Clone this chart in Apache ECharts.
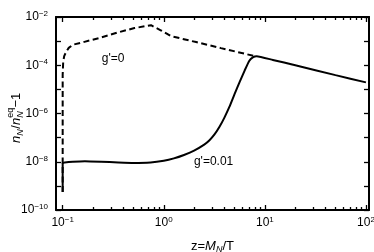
<!DOCTYPE html>
<html><head><meta charset="utf-8">
<script src="https://cdn.jsdelivr.net/npm/echarts@6/dist/echarts.min.js"></script>
<style>html,body{margin:0;padding:0;background:#fff}#c{width:374px;height:252px}</style>
</head><body><div id="c"></div>
<script>
// ---- data ----
const xMajorTicks = [0.1, 1, 10, 100];
const xMinorTicks = [0.2,0.3,0.4,0.5,0.6,0.7,0.8,0.9,2,3,4,5,6,7,8,9,20,30,40,50,60,70,80,90];
const yTicks = [1e-10,1e-9,1e-8,1e-7,1e-6,1e-5,1e-4,1e-3,1e-2];
const yLabelTicks = [1e-10,1e-8,1e-6,1e-4,1e-2];

const zDashed = [0.1,0.1,0.1012,0.1035,0.1081,0.1148,0.1259,0.164,0.240,0.351,0.513,0.748,0.933,1.175,2.09,3.68,8.13];
const yDashed = [5.62e-10,3.98e-5,1.41e-4,2.40e-4,3.55e-4,5.25e-4,7.08e-4,9.33e-4,1.41e-3,2.29e-3,3.47e-3,4.57e-3,2.82e-3,1.62e-3,9.12e-4,5.13e-4,2.34e-4];

const zSolid = [0.1,0.1,0.1047,0.1259,0.166,0.240,0.355,0.501,0.741,1.0,1.259,1.585,1.995,2.512,2.818,3.162,3.548,3.981,4.467,5.012,5.623,6.310,7.0,7.6,8.3,12,20,50,100];
const ySolid = [5.62e-10,8.91e-9,9.33e-9,1.0e-8,1.05e-8,1.0e-8,9.33e-9,8.91e-9,9.33e-9,1.10e-8,1.38e-8,1.91e-8,2.88e-8,5.13e-8,7.59e-8,1.32e-7,2.75e-7,6.76e-7,1.91e-6,6.31e-6,2.0e-5,6.03e-5,1.51e-4,2.12e-4,2.38e-4,1.66e-4,1.0e-4,3.9e-5,1.95e-5];

const annotTexts = ["g'=0", "g'=0.01"];
const annotZ = [0.316, 3.11];
const annotY = [1.95e-4, 9.8e-9];

// ---- chart ----
const FF = '"Liberation Sans", Arial, sans-serif';
const xMin = 0.0859, xMax = 107.2, yMin = 1e-10, yMax = 1e-2;

function expLabel(v) {
  const e = Math.round(Math.log10(v));
  return '{b|10}{e|' + (e < 0 ? '\u2212' + (-e) : String(e)) + '}';
}
const labelRich = {
  b: {fontSize: 12, fontFamily: FF, color: '#000', lineHeight: 14},
  e: {fontSize: 8, fontFamily: FF, color: '#000', lineHeight: 8, padding: [0, 0, 6, 0], verticalAlign: 'top'}
};

function xAxisDef(pos, ticks, len, showLine, showLabel) {
  return {
    type: 'log', logBase: 10, min: xMin, max: xMax, position: pos,
    axisLine: {show: showLine, lineStyle: {color: '#000', width: 2}},
    axisTick: {show: true, inside: true, length: len, customValues: ticks, lineStyle: {color: '#000', width: 1.3}},
    axisLabel: showLabel ? {show: true, customValues: xMajorTicks, formatter: expLabel, rich: labelRich, margin: 6} : {show: false},
    splitLine: {show: false}, minorTick: {show: false}
  };
}

const xAxes = [
  xAxisDef('bottom', xMajorTicks, 5, true, true),
  xAxisDef('bottom', xMinorTicks, 3, false, false),
  xAxisDef('top', xMajorTicks, 5, true, false),
  xAxisDef('top', xMinorTicks, 3, false, false)
];
xAxes[0].name = '{r|z=}{i|M}{s|N}{r|/T}';
xAxes[0].nameLocation = 'middle';
xAxes[0].nameGap = 28;
xAxes[0].nameTextStyle = {rich: {
  r: {fontSize: 13, fontFamily: FF, color: '#000', lineHeight: 16},
  i: {fontSize: 13, fontFamily: FF, fontStyle: 'italic', color: '#000', lineHeight: 16},
  s: {fontSize: 9, fontFamily: FF, fontStyle: 'italic', color: '#000', lineHeight: 9, padding: [7, 0, 0, 0], verticalAlign: 'bottom'}
}};

function yAxisDef(pos, showLabel) {
  return {
    type: 'log', logBase: 10, min: yMin, max: yMax, position: pos,
    axisLine: {show: true, lineStyle: {color: '#000', width: 2}},
    axisTick: {show: true, inside: true, length: 5, customValues: yTicks, lineStyle: {color: '#000', width: 1.3}},
    axisLabel: showLabel ? {show: true, customValues: yLabelTicks, formatter: expLabel, rich: labelRich, margin: 8} : {show: false},
    splitLine: {show: false}, minorTick: {show: false}
  };
}

const chart = echarts.init(document.getElementById('c'), null, {renderer: 'canvas'});
chart.setOption({
  animation: false,
  backgroundColor: '#fff',
  grid: {left: 56, right: 5, top: 17, bottom: 42, containLabel: false, outerBoundsMode: 'none'},
  xAxis: xAxes,
  yAxis: [yAxisDef('left', true), yAxisDef('right', false)],
  series: [
    {type: 'line', xAxisIndex: 0, yAxisIndex: 0, showSymbol: false, symbol: 'none', smooth: false,
     data: zDashed.map((z, i) => [z, yDashed[i]]),
     lineStyle: {color: '#000', width: 2, type: [6, 3.5]}},
    {type: 'line', xAxisIndex: 0, yAxisIndex: 0, showSymbol: false, symbol: 'none', smooth: 0.15,
     data: zSolid.map((z, i) => [z, ySolid[i]]),
     lineStyle: {color: '#000', width: 2}}
  ]
});

const gfx = annotTexts.map((t, i) => {
  const p = chart.convertToPixel({xAxisIndex: 0, yAxisIndex: 0}, [annotZ[i], annotY[i]]);
  return {type: 'text', x: p[0], y: p[1], style: {text: t, font: '12px ' + FF, fill: '#000', align: 'center', verticalAlign: 'middle'}};
});
const itf = 'italic 13px ' + FF, nf = '13px ' + FF, sf = 'italic 9px ' + FF, ef = '9px ' + FF;
gfx.push({type: 'group', x: 16, y: 143, rotation: Math.PI / 2, children: [
  {type: 'text', x: 0, y: 0, style: {text: 'n', font: itf, fill: '#000', align: 'left', verticalAlign: 'middle'}},
  {type: 'text', x: 7.2, y: 4, style: {text: 'N', font: sf, fill: '#000', align: 'left', verticalAlign: 'middle'}},
  {type: 'text', x: 14.2, y: 0, style: {text: '/', font: nf, fill: '#000', align: 'left', verticalAlign: 'middle'}},
  {type: 'text', x: 18, y: 0, style: {text: 'n', font: itf, fill: '#000', align: 'left', verticalAlign: 'middle'}},
  {type: 'text', x: 25.2, y: 4, style: {text: 'N', font: sf, fill: '#000', align: 'left', verticalAlign: 'middle'}},
  {type: 'text', x: 25.2, y: -5, style: {text: 'eq', font: ef, fill: '#000', align: 'left', verticalAlign: 'middle'}},
  {type: 'text', x: 35.5, y: 0, style: {text: '\u22121', font: nf, fill: '#000', align: 'left', verticalAlign: 'middle'}}
]});
chart.setOption({graphic: gfx});
</script></body></html>
